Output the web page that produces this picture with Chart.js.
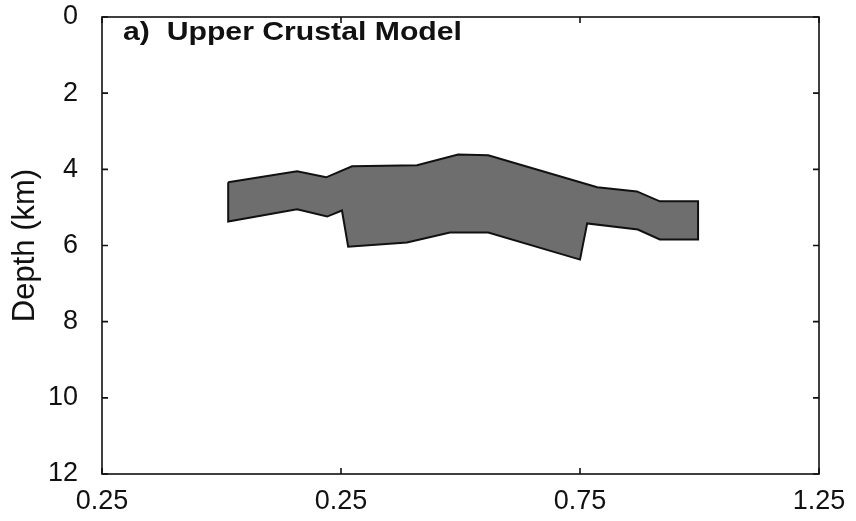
<!DOCTYPE html>
<html>
<head>
<meta charset="utf-8">
<script src="https://cdn.jsdelivr.net/npm/chart.js@4.4.1/dist/chart.umd.min.js"></script>
<style>
  html, body { margin: 0; padding: 0; background: #fff; }
  #wrap { width: 856px; height: 521px; }
</style>
</head>
<body>
<div id="wrap"><canvas id="c" width="856" height="521"></canvas></div>
<script>
// ---- Data ----
const panelTitle = 'a)  Upper Crustal Model';
const yAxisTitle = 'Depth (km)';
const xTickValues = [-0.25, 0.25, 0.75, 1.25];
const xTickLabels = ['0.25', '0.25', '0.75', '1.25'];
const yTickValues = [0, 2, 4, 6, 8, 10, 12];

// Outline of the upper-crustal body (distance, depth km), top edge left->right,
// then bottom edge right->left, closed.
const bodyX = [0.014, 0.158, 0.219, 0.273, 0.409, 0.495, 0.558, 0.786, 0.869, 0.917, 0.997,
               0.997, 0.917, 0.871, 0.765, 0.750, 0.558, 0.478, 0.388, 0.265, 0.252, 0.221, 0.158, 0.014, 0.014];
const bodyDepth = [4.34, 4.05, 4.21, 3.92, 3.89, 3.61, 3.63, 4.47, 4.58, 4.84, 4.84,
                   5.84, 5.84, 5.58, 5.42, 6.37, 5.66, 5.66, 5.92, 6.03, 5.08, 5.24, 5.05, 5.37, 4.34];

const bodyPoints = bodyX.map((x, i) => ({ x: x, y: bodyDepth[i] }));

const FONT = '"Liberation Sans", Arial, Helvetica, sans-serif';

const framePlugin = {
  id: 'frame',
  afterDraw(chart) {
    const { ctx, chartArea: a, scales } = chart;
    ctx.save();
    ctx.strokeStyle = '#111';
    ctx.lineWidth = 1.6;
    ctx.strokeRect(a.left, a.top, a.right - a.left, a.bottom - a.top);
    const L = 6;
    // inner ticks
    scales.x.ticks.forEach(t => {
      const px = scales.x.getPixelForValue(t.value);
      ctx.beginPath();
      ctx.moveTo(px, a.bottom); ctx.lineTo(px, a.bottom - L);
      ctx.moveTo(px, a.top); ctx.lineTo(px, a.top + L);
      ctx.stroke();
    });
    scales.y.ticks.forEach(t => {
      const py = scales.y.getPixelForValue(t.value);
      ctx.beginPath();
      ctx.moveTo(a.left, py); ctx.lineTo(a.left + L, py);
      ctx.moveTo(a.right, py); ctx.lineTo(a.right - L, py);
      ctx.stroke();
    });
    // panel title (slightly wide lettering as in the scanned original)
    ctx.fillStyle = '#111';
    ctx.font = 'bold 25px ' + FONT;
    ctx.textBaseline = 'alphabetic';
    ctx.textAlign = 'left';
    const w = ctx.measureText(panelTitle).width;
    const sx = 339 / w;
    ctx.translate(a.left + 21, a.top + 23);
    ctx.scale(sx, 1);
    ctx.fillText(panelTitle, 0, 0);
    ctx.restore();
  }
};

new Chart(document.getElementById('c'), {
  type: 'scatter',
  data: {
    datasets: [{
      data: bodyPoints,
      showLine: true,
      fill: 'shape',
      backgroundColor: '#6e6e6e',
      borderColor: '#111',
      borderWidth: 2,
      pointRadius: 0,
      tension: 0
    }]
  },
  options: {
    responsive: false,
    animation: false,
    devicePixelRatio: 1,
    layout: { padding: { top: 17, right: 37, left: 0, bottom: 0 } },
    plugins: { legend: { display: false }, tooltip: { enabled: false } },
    scales: {
      x: {
        type: 'linear',
        min: -0.25, max: 1.25,
        afterBuildTicks(scale) { scale.ticks = xTickValues.map(v => ({ value: v })); },
        afterFit(scale) { scale.height = 47; scale.paddingLeft = 0; scale.paddingRight = 0; },
        grid: { display: false, drawTicks: false },
        border: { display: false },
        ticks: {
          color: '#111',
          padding: 11,
          maxRotation: 0,
          autoSkip: false,
          font: { family: FONT, size: 27 },
          callback: function (value, index) { return xTickLabels[index]; }
        }
      },
      y: {
        type: 'linear',
        reverse: true,
        min: 0, max: 12,
        afterBuildTicks(scale) { scale.ticks = yTickValues.map(v => ({ value: v })); },
        afterFit(scale) { scale.width = 102; scale.paddingTop = 0; scale.paddingBottom = 0; },
        grid: { display: false, drawTicks: false },
        border: { display: false },
        title: {
          display: true,
          text: yAxisTitle,
          color: '#111',
          font: { family: FONT, size: 31 },
          padding: { top: 7, bottom: 0 }
        },
        ticks: {
          color: '#111',
          padding: 24,
          font: { family: FONT, size: 27 },
          callback: function (value) { return String(value); }
        }
      }
    }
  },
  plugins: [framePlugin]
});
</script>
</body>
</html>
